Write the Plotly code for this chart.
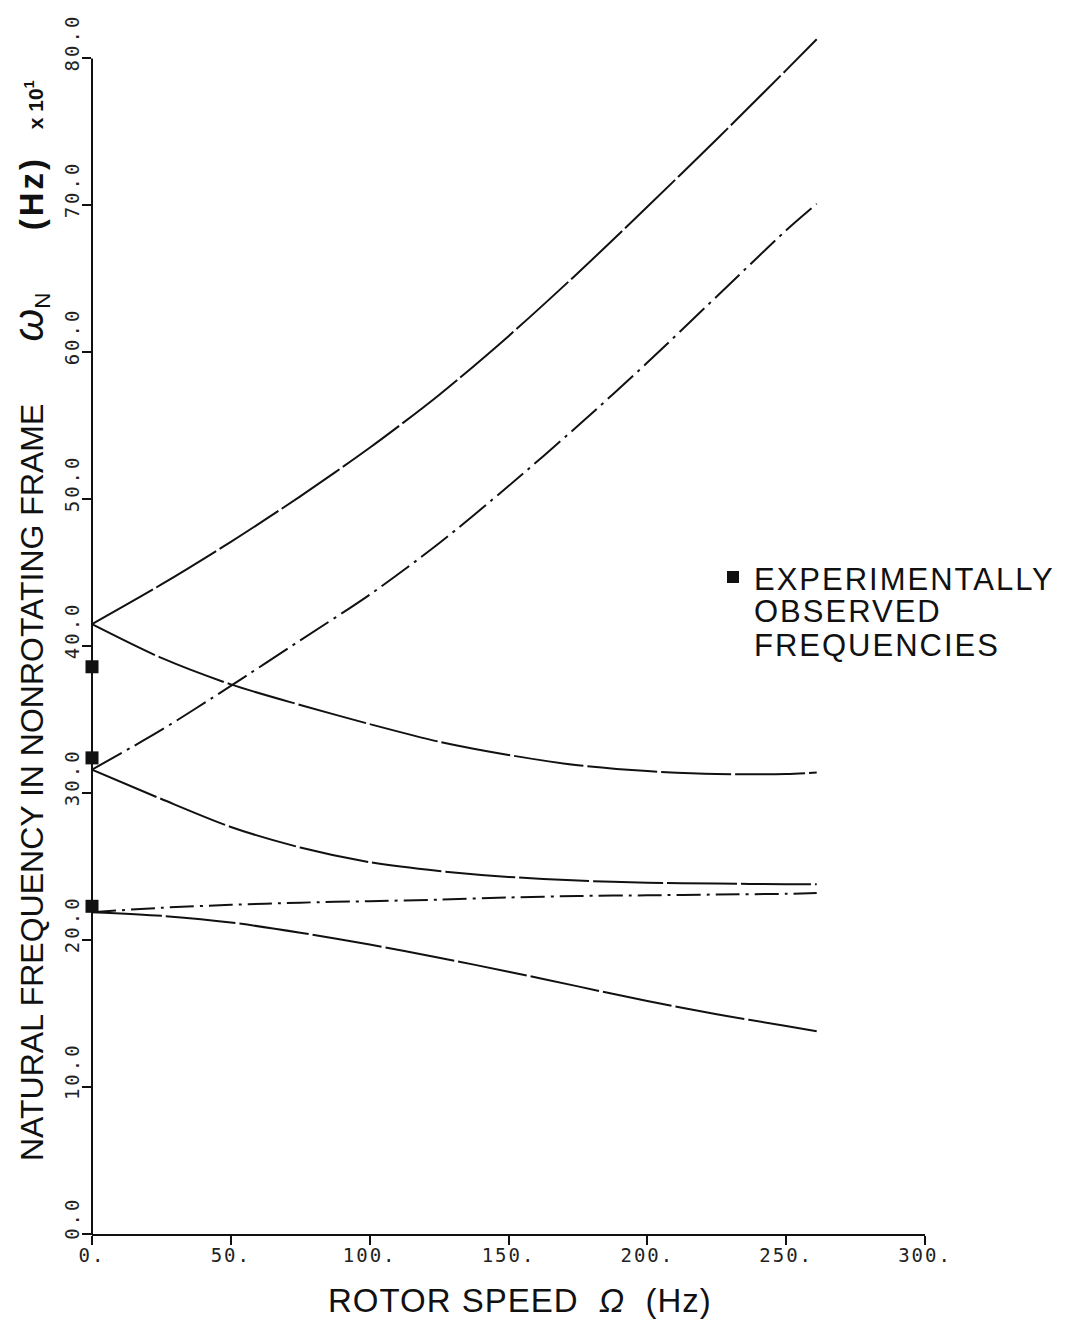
import plotly.graph_objects as go

# Rotor speed (Hz) at which the natural frequencies are evaluated
rotor_speed = [0, 25, 50, 75, 100, 125, 150, 175, 200, 225, 250, 261]

# Natural frequencies in the nonrotating frame (Hz x 10)
mode1_forward = [41.5, 44.2, 47.1, 50.2, 53.5, 57.1, 61.1, 65.4, 69.9, 74.5, 79.2, 81.3]
mode2_forward = [31.6, 34.3, 37.3, 40.4, 43.5, 47.0, 50.9, 55.0, 59.3, 63.8, 68.3, 70.1]
mode1_backward = [41.5, 39.2, 37.4, 36.0, 34.7, 33.5, 32.6, 31.9, 31.5, 31.3, 31.3, 31.4]
mode2_backward = [31.6, 29.6, 27.7, 26.3, 25.3, 24.7, 24.3, 24.05, 23.9, 23.85, 23.8, 23.8]
mode3_forward = [21.9, 22.2, 22.4, 22.55, 22.65, 22.75, 22.9, 23.0, 23.05, 23.1, 23.15, 23.2]
mode3_backward = [21.9, 21.65, 21.2, 20.5, 19.7, 18.8, 17.85, 16.85, 15.85, 14.95, 14.15, 13.8]

# Experimentally observed frequencies (rotor at rest)
exp_speed = [0, 0, 0]
exp_freq = [38.6, 32.4, 22.3]

x_tick_vals = [0, 50, 100, 150, 200, 250, 300]
x_tick_text = ["0.", "50.", "100.", "150.", "200.", "250.", "300."]
y_tick_vals = [0, 10, 20, 30, 40, 50, 60, 70, 80]
y_tick_text = ["0.0", "10.0", "20.0", "30.0", "40.0", "50.0", "60.0", "70.0", "80.0"]

W, H = 1067, 1328
M_L, M_R, M_T, M_B = 92, 142, 29, 94
PLOT_W = W - M_L - M_R
PLOT_H = H - M_T - M_B


def paper_x(px):
    return (px - M_L) / PLOT_W


def paper_y(py):
    return (H - M_B - py) / PLOT_H


def spaced(text, px):
    return f"<span style='letter-spacing:{px}px'>{text}</span>"


INK = "#111111"
SOLID_DASH = "70px,4px"
CHAIN_DASH = "34px,6px,3px,6px"
CHAIN_DASH_SHORT = "24px,6px,3px,6px"

curves = [
    (mode1_forward, SOLID_DASH),
    (mode2_forward, CHAIN_DASH),
    (mode1_backward, SOLID_DASH),
    (mode2_backward, SOLID_DASH),
    (mode3_forward, CHAIN_DASH_SHORT),
    (mode3_backward, SOLID_DASH),
]

fig = go.Figure()
for values, dash in curves:
    fig.add_trace(go.Scatter(
        x=rotor_speed, y=values, mode="lines",
        line=dict(color=INK, width=2, dash=dash, shape="spline", smoothing=0.8),
        showlegend=False, hoverinfo="skip",
    ))

fig.add_trace(go.Scatter(
    x=exp_speed, y=exp_freq, mode="markers",
    marker=dict(symbol="square", size=13, color=INK),
    cliponaxis=False, showlegend=False,
))

tick_font = dict(family="DejaVu Sans Mono", size=19, color="#222222")
label_font = "Liberation Sans, Arial, sans-serif"

fig.update_layout(
    width=W, height=H,
    margin=dict(l=M_L, r=M_R, t=M_T, b=M_B, pad=0),
    paper_bgcolor="white", plot_bgcolor="white",
    xaxis=dict(
        range=[0, 300], tickmode="array", tickvals=x_tick_vals,
        ticktext=[spaced(t, 2) for t in x_tick_text],
        ticks="outside", ticklen=9, tickwidth=1.5, tickcolor=INK,
        showline=True, linewidth=2, linecolor=INK,
        showgrid=False, zeroline=False, tickfont=tick_font,
        ticklabelstandoff=-6,
    ),
    yaxis=dict(
        range=[0, 82], tickmode="array", tickvals=y_tick_vals,
        ticktext=[spaced(t, 3) for t in y_tick_text],
        ticks="outside", ticklen=9, tickwidth=1.5, tickcolor=INK,
        showline=False, showgrid=False, zeroline=False,
        tickangle=-90, ticklabelshift=-13, ticklabelstandoff=-5, tickfont=tick_font,
    ),
    shapes=[
        # vertical axis line, ending at the 80.0 tick
        dict(type="line", xref="paper", yref="y", x0=0, x1=0, y0=0, y1=80,
             line=dict(color=INK, width=2)),
        # short overhang of the horizontal axis to the left of the origin
        dict(type="line", xref="paper", yref="paper", x0=paper_x(83), x1=0, y0=0, y1=0,
             line=dict(color=INK, width=2)),
        # legend key
        dict(type="rect", xref="paper", yref="paper",
             x0=paper_x(727), x1=paper_x(739), y0=paper_y(583), y1=paper_y(571),
             fillcolor=INK, line=dict(width=0)),
    ],
)

sp = "\u00a0"
y_title = (
    "NATURAL FREQUENCY IN NONROTATING FRAME" + sp * 7
    + "<span style='font-size:42px'><i>ω</i></span><sub>N</sub>" + sp * 7
    + "<b><span style='font-size:33px;letter-spacing:3px'>(Hz)</span></b>" + sp * 3
    + "<b><span style='font-size:21px'>x 10<sup>1</sup></span></b>"
)
fig.add_annotation(
    text=y_title, textangle=-90, showarrow=False,
    xref="paper", yref="paper", x=paper_x(30), y=paper_y(621),
    xanchor="center", yanchor="middle",
    font=dict(family=label_font, size=32, color=INK),
)

fig.add_annotation(
    text=spaced("ROTOR SPEED" + sp * 2 + "<i>Ω</i>" + sp * 2 + "(Hz)", 1),
    showarrow=False,
    xref="paper", yref="paper", x=paper_x(520), y=paper_y(1300),
    xanchor="center", yanchor="middle",
    font=dict(family=label_font, size=33, color=INK),
)

legend_lines = ["EXPERIMENTALLY", "OBSERVED", "FREQUENCIES"]
legend_y = [579, 612, 645]
for line_text, ly in zip(legend_lines, legend_y):
    fig.add_annotation(
        text=spaced(line_text, 2),
        showarrow=False, xref="paper", yref="paper",
        x=paper_x(752), y=paper_y(ly), xanchor="left", yanchor="middle",
        font=dict(family=label_font, size=31, color=INK),
    )

fig.write_html("out.html")
